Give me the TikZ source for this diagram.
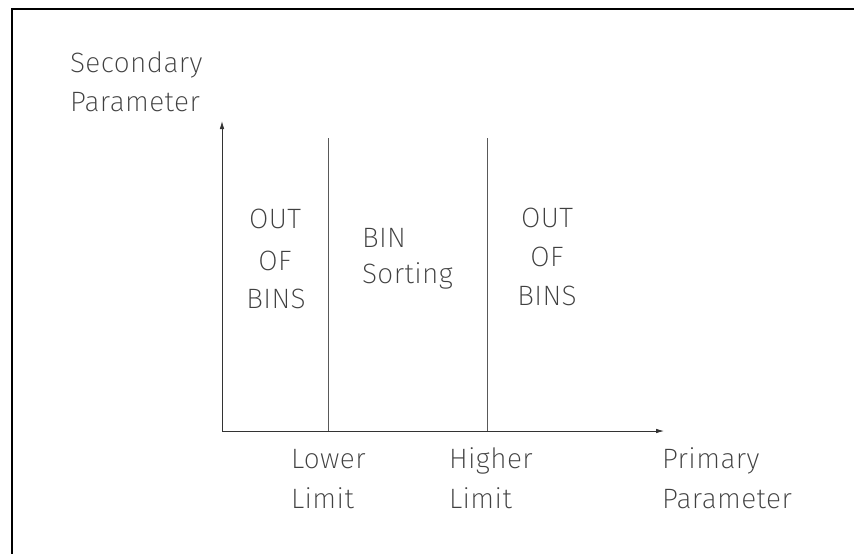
\documentclass[tikz,border=0pt]{standalone}
\usepackage{fontspec}
\setmainfont{Fira Sans}[UprightFont=* ExtraLight, LetterSpace=1.5]
\usetikzlibrary{arrows.meta}
\begin{document}
\begin{tikzpicture}[x=1pt,y=-1pt,
  lbl/.style={inner sep=0pt,outer sep=0pt,text=black!75,font=\fontsize{28}{28}\selectfont},
  axis/.style={draw=black!80,line width=0.8pt,-{Latex[length=8pt,width=4.5pt]}},
  limitline/.style={draw=black!65,line width=0.7pt},
  frameline/.style={draw=black,line width=2.4pt}]
\useasboundingbox (0,0) rectangle (854,554);
\fill[white] (0,0) rectangle (854,554);
% frame (top and left edges only)
\draw[frameline] (12,554) -- (12,9) -- (854,9);
% axes
\coordinate (O) at (222,431);
\coordinate (ytip) at (222,121);
\coordinate (xtip) at (664,431);
\draw[axis] (O) -- (ytip);
\draw[axis] (O) -- (xtip);
% limit lines
\coordinate (lowbot) at (328,431);
\coordinate (lowtop) at (328,138);
\coordinate (highbot) at (487,431);
\coordinate (hightop) at (487,138);
\draw[limitline] (lowbot) -- (lowtop);
\draw[limitline] (highbot) -- (hightop);
% axis titles
\node[lbl,anchor=base west] (sec1) at (70,72) {Secondary};
\node[lbl,anchor=base west] (sec2) at (70,111) {Parameter};
\node[lbl,anchor=base west] (pri1) at (662,468) {Primary};
\node[lbl,anchor=base west] (pri2) at (662,508) {Parameter};
% limit labels
\node[lbl,anchor=base west] (low1) at (291,468) {Lower};
\node[lbl,anchor=base west] (low2) at (291,508) {Limit};
\node[lbl,anchor=base west] (hi1) at (449,468) {Higher};
\node[lbl,anchor=base west] (hi2) at (449,508) {Limit};
% region labels
\node[lbl,anchor=base] (lout) at (275,228) {OUT};
\node[lbl,anchor=base] (lof) at (275,270) {OF};
\node[lbl,anchor=base] (lbins) at (276,308) {BINS};
\node[lbl,anchor=base west] (bin) at (362,247) {BIN};
\node[lbl,anchor=base west] (sort) at (362,283) {Sorting};
\node[lbl,anchor=base] (rout) at (547,227) {OUT};
\node[lbl,anchor=base] (rof) at (547,266) {OF};
\node[lbl,anchor=base] (rbins) at (547,305) {BINS};
\end{tikzpicture}
\end{document}
